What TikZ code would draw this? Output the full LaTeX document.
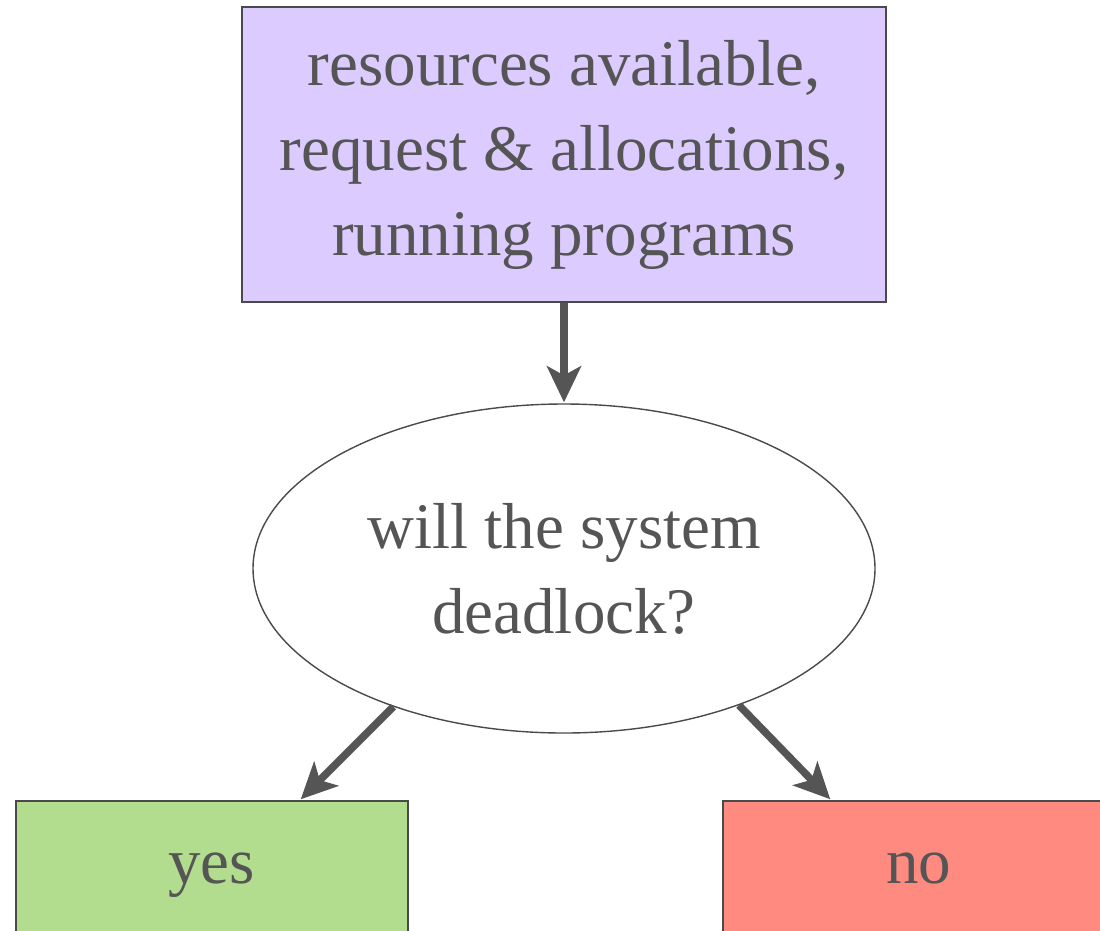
\documentclass[tikz,border=0pt]{standalone}
\usepackage{fontspec}
\setmainfont{Liberation Serif}
\usetikzlibrary{shapes.geometric,arrows.meta}
\definecolor{ink}{HTML}{555555}
\definecolor{edge}{HTML}{4A4A4A}
\definecolor{lavender}{HTML}{DCCBFF}
\definecolor{leaf}{HTML}{B3DD8E}
\definecolor{salmon}{HTML}{FF8A80}
\tikzset{
  box/.style={draw=edge, line width=1.6pt, inner sep=0pt, text=ink, align=center},
  answer/.style={box, minimum width=392pt, minimum height=140pt, anchor=north west,
    text height=38pt, text depth=12pt, txt},
  flow/.style={draw=ink, line width=7.5pt,
    -{Stealth[length=36pt, width=34pt, inset=9pt]}, shorten >=1pt},
  txt/.style={font=\fontsize{65}{85}\selectfont}
}
\begin{document}
\begin{tikzpicture}[x=1pt,y=-1pt]
  \useasboundingbox (0,0) rectangle (1100,930);
  \clip (0,0) rectangle (1100,930);
  \node[box, fill=lavender, minimum width=644pt, minimum height=295pt, txt]
    (state) at (564,154.5) {resources available,\\request \& allocations,\\running programs};
  \node[box, ellipse, fill=white, line width=1.4pt, minimum width=622pt, minimum height=329pt, txt]
    (check) at (564,568.5) {will the system\\deadlock?};
  \node[answer, fill=leaf] (yes) at (15,800) {yes};
  \node[answer, fill=salmon] (no) at (722,800) {no};
  \draw[flow] (state.south) -- (check.north);
  \draw[flow] (check.-141.4) -- (yes.north east -| 300,800);
  \draw[flow] (check.-38.6) -- (no.north west -| 831,800);
\end{tikzpicture}
\end{document}
